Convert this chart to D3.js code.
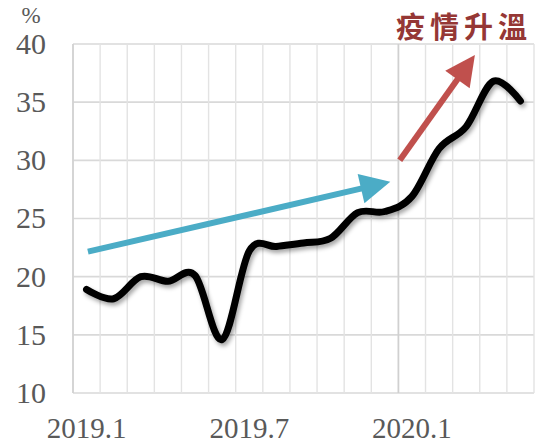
<!DOCTYPE html>
<html>
<head>
<meta charset="utf-8">
<script src="https://cdn.jsdelivr.net/npm/d3@7"></script>
<style>
html,body{margin:0;padding:0;background:#fff;}
svg{display:block;}
</style>
</head>
<body>
<script>
// ---- data ----
const months = ["2019.1","2019.2","2019.3","2019.4","2019.5","2019.6","2019.7","2019.8","2019.9","2019.10","2019.11","2019.12","2020.1","2020.2","2020.3","2020.4","2020.5"];
const values = [18.9, 18.1, 20.0, 19.6, 20.1, 14.6, 22.2, 22.6, 22.9, 23.3, 25.5, 25.6, 26.9, 31.0, 32.9, 36.8, 35.1];
const yTicks = [10, 15, 20, 25, 30, 35, 40];
const xTickLabels = ["2019.1", "2019.7", "2020.1"];
// annotation arrows in data units: [monthIndex, value]
const blueArrow = [[0.05, 22.15], [11.2, 28.15]];
const redArrow = [[11.55, 30.0], [14.32, 39.05]];
const titleText = "疫情升溫";
const unitText = "%";

// ---- layout ----
const W = 536, H = 446;
const m = {left: 73, right: 2, top: 44, bottom: 53};
const svg = d3.select("body").append("svg").attr("width", W).attr("height", H);

const x = d3.scaleBand().domain(months).range([m.left, W - m.right]).padding(0);
const xi = d3.scaleLinear().domain([-0.5, months.length - 0.5]).range([m.left, W - m.right]);
const y = d3.scaleLinear().domain([10, 40]).range([H - m.bottom, m.top]);

const defs = svg.append("defs");
const f = defs.append("filter").attr("id", "sh").attr("x", "-10%").attr("y", "-10%").attr("width", "130%").attr("height", "130%");
f.append("feDropShadow").attr("dx", 2).attr("dy", 3).attr("stdDeviation", 2).attr("flood-color", "#000").attr("flood-opacity", 0.35);

// gridlines
const grid = svg.append("g");
grid.selectAll("line.h").data(yTicks).join("line")
  .attr("x1", m.left).attr("x2", W - m.right)
  .attr("y1", d => y(d)).attr("y2", d => y(d))
  .attr("stroke", "#d9d9d9").attr("stroke-width", 1.6);
const vIdx = d3.range(months.length + 1);
grid.selectAll("line.v").data(vIdx).join("line")
  .attr("x1", d => xi(d - 0.5)).attr("x2", d => xi(d - 0.5))
  .attr("y1", m.top).attr("y2", H - m.bottom)
  .attr("stroke", d => d === 12 ? "#d0d0d0" : "#e3e3e3")
  .attr("stroke-width", d => d === 12 ? 1.8 : 1.4);
grid.append("line").attr("x1", m.left).attr("x2", m.left).attr("y1", m.top).attr("y2", H - m.bottom)
  .attr("stroke", "#d0d0d0").attr("stroke-width", 1.6);

// y labels
svg.append("g").selectAll("text").data(yTicks).join("text")
  .attr("x", 46).attr("y", d => y(d)).attr("dy", "0.33em")
  .attr("text-anchor", "end")
  .attr("font-family", "'Liberation Serif', 'Times New Roman', serif")
  .attr("font-size", 30).attr("fill", "#595959")
  .text(d => d);

// x labels
svg.append("g").selectAll("text").data(xTickLabels).join("text")
  .attr("x", d => x(d) + x.bandwidth() / 2).attr("y", 438)
  .attr("text-anchor", "middle")
  .attr("font-family", "'Liberation Serif', 'Times New Roman', serif")
  .attr("font-size", 29).attr("fill", "#595959")
  .text(d => d);

// unit
svg.append("text").attr("x", 31).attr("y", 23).attr("text-anchor", "middle")
  .attr("font-family", "'Liberation Serif', serif").attr("font-size", 23).attr("fill", "#595959")
  .text(unitText);

// arrows
function arrow(pts, color) {
  const [a, b] = pts.map(p => [xi(p[0]), y(p[1])]);
  const dx = b[0] - a[0], dy = b[1] - a[1];
  const L = Math.hypot(dx, dy), ux = dx / L, uy = dy / L;
  const hl = 30, hw = 15;
  const bx = b[0] - ux * hl, by = b[1] - uy * hl;
  const g = svg.append("g");
  g.append("line").attr("x1", a[0]).attr("y1", a[1]).attr("x2", bx + ux * 2).attr("y2", by + uy * 2)
    .attr("stroke", color).attr("stroke-width", 6);
  g.append("path").attr("d", d3.line()([[b[0], b[1]], [bx - uy * hw, by + ux * hw], [bx + uy * hw, by - ux * hw]]) + "Z")
    .attr("fill", color);
}
arrow(blueArrow, "#4bacc6");
arrow(redArrow, "#c0504d");

// main line
const line = d3.line()
  .x((d, i) => x(months[i]) + x.bandwidth() / 2)
  .y(d => y(d))
  .curve(d3.curveCardinal.tension(0));
svg.append("path").datum(values)
  .attr("d", line)
  .attr("fill", "none").attr("stroke", "#000").attr("stroke-width", 7)
  .attr("stroke-linecap", "round").attr("stroke-linejoin", "round")
  .attr("filter", "url(#sh)");

// title
svg.append("text").attr("x", 532).attr("y", 38).attr("text-anchor", "end")
  .attr("font-family", "'Noto Sans CJK TC', 'Noto Sans CJK SC', sans-serif")
  .attr("font-size", 29).attr("font-weight", 700).attr("letter-spacing", 5)
  .attr("fill", "#953735")
  .text(titleText);
</script>
</body>
</html>
